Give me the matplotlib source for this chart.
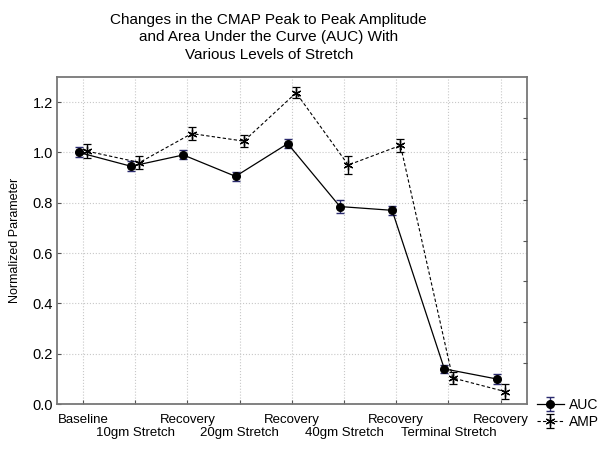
import matplotlib
matplotlib.use("Agg")
import matplotlib.pyplot as plt
import numpy as np

plt.rcParams["font.family"] = ["Liberation Sans", "DejaVu Sans"]

# data
labels = ["Baseline", "10gm Stretch", "Recovery", "20gm Stretch", "Recovery",
          "40gm Stretch", "Recovery", "Terminal Stretch", "Recovery"]
auc = [1.00, 0.945, 0.99, 0.905, 1.035, 0.785, 0.77, 0.14, 0.10]
auc_err = [0.02, 0.02, 0.018, 0.018, 0.017, 0.025, 0.017, 0.017, 0.02]
amp = [1.005, 0.96, 1.075, 1.045, 1.237, 0.95, 1.028, 0.104, 0.05]
amp_err = [0.027, 0.027, 0.025, 0.025, 0.022, 0.035, 0.025, 0.025, 0.03]

x = np.arange(len(labels))
OFF = 0.08  # small horizontal dodge between the two series

fig = plt.figure(figsize=(6, 4.5), dpi=100)
ax = fig.add_axes([0.095, 0.102, 0.783, 0.727])

ax.errorbar(x - OFF, auc, yerr=auc_err, fmt="-o", color="black", ms=5.5, lw=0.9,
            ecolor="#2b2b6e", elinewidth=1.0, capsize=3, capthick=1.0, label="AUC", zorder=3)
ax.errorbar(x + OFF, amp, yerr=amp_err, fmt="--", marker=(6, 2, 0), color="black", ms=7,
            mew=0.9, lw=0.8, dashes=(3, 2), ecolor="black", elinewidth=1.0, capsize=3,
            capthick=1.0, label="AMP", zorder=3)

ax.set_xlim(-0.5, 8.5)
ax.set_ylim(0, 1.3)
ax.set_yticks(np.arange(0, 1.21, 0.2))
ax.set_yticklabels([f"{v:.1f}" for v in np.arange(0, 1.21, 0.2)], fontsize=10.5)
# staggered category labels: even positions on the upper row, odd on the lower row
ax.set_xticks(x[::2])
ax.set_xticklabels(labels[::2], fontsize=9.5)
ax.set_xticks(x[1::2], minor=True)
ax.set_xticklabels(labels[1::2], minor=True, fontsize=9.5)
ax.tick_params(axis="both", which="both", direction="in", length=3, width=0.8, color="#555")
ax.tick_params(axis="x", which="major", pad=7)
ax.tick_params(axis="x", which="minor", pad=16.5)
ax.tick_params(axis="y", pad=3)
ax.grid(True, which="both", axis="x", color="#c8c8c8", ls=":", lw=0.8)
ax.grid(True, axis="y", color="#c8c8c8", ls=":", lw=0.8)
for sp in ax.spines.values():
    sp.set_color("#777")
    sp.set_linewidth(1.3)
ax.set_ylabel("Normalized Parameter", fontsize=9, labelpad=8)

# right-hand spine carries its own unlabelled ticks
ax2 = ax.twinx()
ax2.set_ylim(0, 8)
ax2.set_yticks(range(1, 8))
ax2.set_yticklabels([])
ax2.tick_params(axis="y", direction="in", length=3, width=0.8, color="#555")
for sp in ax2.spines.values():
    sp.set_visible(False)

fig.text(0.448, 0.972, "Changes in the CMAP Peak to Peak Amplitude\n"
         "and Area Under the Curve (AUC) With\nVarious Levels of Stretch",
         ha="center", va="top", fontsize=11, linespacing=1.32)

h, l = ax.get_legend_handles_labels()
fig.legend(h, l, loc="lower left", bbox_to_anchor=(0.885, 0.035), frameon=False,
           fontsize=10, handlelength=2.0, handletextpad=0.3, labelspacing=0.2,
           borderaxespad=0)

fig.savefig("out.png", dpi=100)
